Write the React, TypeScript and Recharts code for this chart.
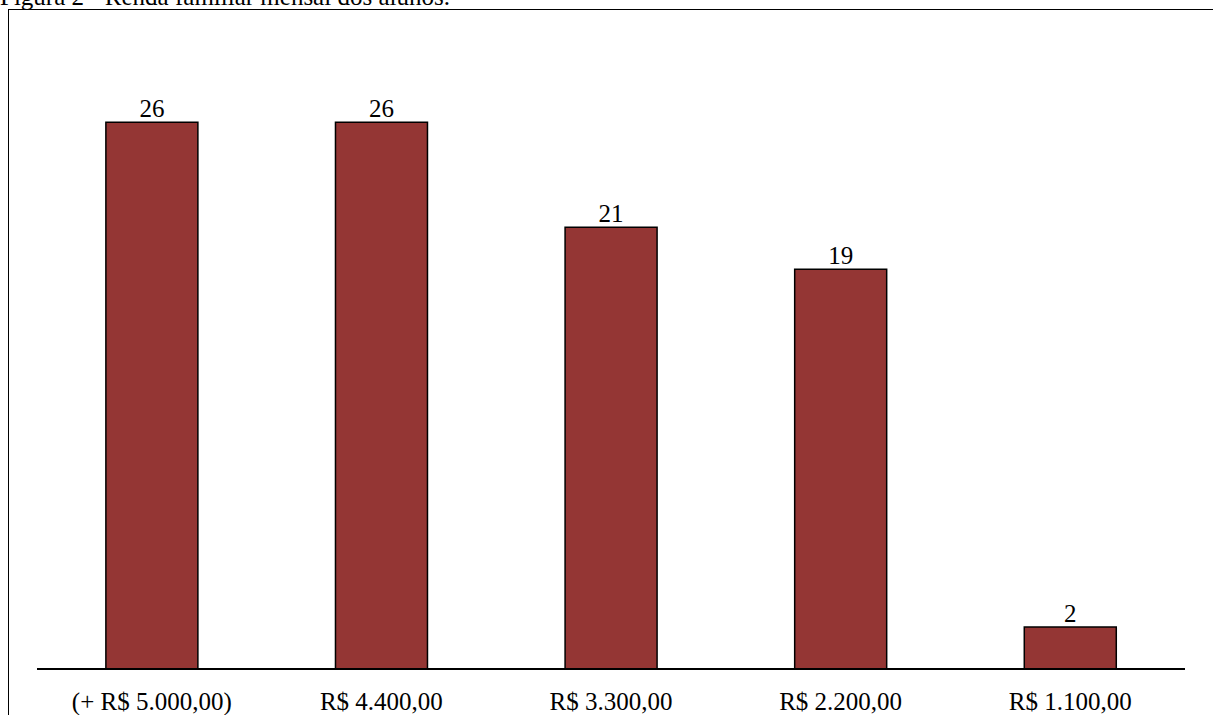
import { BarChart, Bar, XAxis, YAxis, LabelList } from 'recharts';

const categories = ['(+ R$ 5.000,00)', 'R$ 4.400,00', 'R$ 3.300,00', 'R$ 2.200,00', 'R$ 1.100,00'];
const alunos = [26, 26, 21, 19, 2];

const data = categories.map((faixa, i) => ({ faixa, alunos: alunos[i] }));

const FONT = '"Liberation Serif", "Times New Roman", serif';

export default function App() {
  return (
    <div style={{ position: 'absolute', left: 0, top: 0, width: 1213, height: 715, overflow: 'hidden', background: '#fff' }}>
      {/* legenda da figura, cortada no topo como no original */}
      <div
        style={{
          position: 'absolute',
          left: 0,
          top: -16,
          fontFamily: FONT,
          fontSize: 25,
          lineHeight: '25px',
          whiteSpace: 'nowrap',
          color: '#000',
        }}
      >
        Figura 2 - Renda familiar mensal dos alunos.
      </div>
      <div
        style={{
          position: 'absolute',
          left: 8,
          top: 9,
          width: 1220,
          height: 730,
          border: '1px solid #000',
          boxSizing: 'border-box',
        }}
      />
      <div style={{ position: 'absolute', left: 0, top: 0 }}>
        <BarChart
          width={1213}
          height={715}
          data={data}
          margin={{ top: 38, right: 28, bottom: 0, left: 37 }}
          barCategoryGap="30%"
        >
          <XAxis
            dataKey="faixa"
            axisLine={{ stroke: '#000', strokeWidth: 2 }}
            tickLine={false}
            tickMargin={17}
            height={46}
            interval={0}
            tick={{ fill: '#000', fontSize: 25, fontFamily: FONT }}
          />
          <YAxis hide domain={[0, 30]} />
          <Bar dataKey="alunos" fill="#943634" stroke="#000" strokeWidth={1.5} isAnimationActive={false}>
            <LabelList
              dataKey="alunos"
              position="top"
              offset={5}
              fill="#000"
              fontSize={25}
              fontFamily={FONT}
            />
          </Bar>
        </BarChart>
      </div>
    </div>
  );
}
